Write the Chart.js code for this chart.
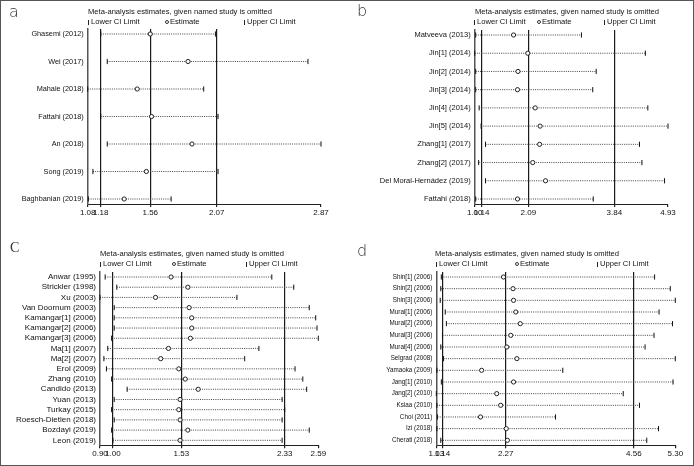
<!DOCTYPE html>
<html>
<head>
<meta charset="utf-8">
<script src="https://cdn.jsdelivr.net/npm/chart.js@4.4.0/dist/chart.umd.min.js"></script>
<style>
body { margin: 0; background: #fff; }
#wrap { position: relative; width: 694px; height: 466px; overflow: hidden; font-family: "Liberation Sans", Arial, sans-serif; color: #111; }
#frame { position: absolute; left: 0; top: 0; width: 692px; height: 464px; border: 1px solid #555; }
.pane { position: absolute; width: 347px; height: 233px; }
.txt { position: absolute; white-space: nowrap; font-size: 7.6px; line-height: 8px; }
.lt { position: absolute; font-family: "DejaVu Sans", sans-serif; font-weight: 200; font-size: 16px; line-height: 16px; color: #333; }
.bar { display: inline-block; width: 1px; height: 5px; background: #222; margin-right: 2px; vertical-align: -0.5px; }
.dot { display: inline-block; width: 2px; height: 2px; border: 1px solid #333; border-radius: 50%; margin-right: 1px; vertical-align: 0.5px; }
</style>
</head>
<body>
<div id="wrap">
  <canvas id="chartA" class="pane" width="347" height="233" style="left:0;top:0"></canvas>
  <canvas id="chartB" class="pane" width="347" height="233" style="left:347px;top:0"></canvas>
  <canvas id="chartC" class="pane" width="347" height="233" style="left:0;top:233px"></canvas>
  <canvas id="chartD" class="pane" width="347" height="233" style="left:347px;top:233px"></canvas>

  <div class="lt" style="left:9px;top:4px">a</div>
  <div class="txt" style="left:88px;top:8px">Meta-analysis estimates, given named study is omitted</div>
  <div class="txt" style="left:88px;top:18px"><span class="bar"></span>Lower CI Limit</div>
  <div class="txt" style="left:165px;top:18px"><span class="dot"></span>Estimate</div>
  <div class="txt" style="left:244px;top:18px"><span class="bar"></span>Upper CI Limit</div>

  <div class="lt" style="left:357px;top:3px">b</div>
  <div class="txt" style="left:475px;top:8px">Meta-analysis estimates, given named study is omitted</div>
  <div class="txt" style="left:474px;top:18px"><span class="bar"></span>Lower CI Limit</div>
  <div class="txt" style="left:537px;top:18px"><span class="dot"></span>Estimate</div>
  <div class="txt" style="left:604px;top:18px"><span class="bar"></span>Upper CI Limit</div>

  <div class="lt" style="left:10px;top:241px;font-family:'Liberation Serif',serif;font-weight:400;font-size:14px;line-height:14px">C</div>
  <div class="txt" style="left:100px;top:250px">Meta-analysis estimates, given named study is omitted</div>
  <div class="txt" style="left:100px;top:260px"><span class="bar"></span>Lower CI Limit</div>
  <div class="txt" style="left:172px;top:260px"><span class="dot"></span>Estimate</div>
  <div class="txt" style="left:246px;top:260px"><span class="bar"></span>Upper CI Limit</div>

  <div class="lt" style="left:357px;top:243px">d</div>
  <div class="txt" style="left:435px;top:250px">Meta-analysis estimates, given named study is omitted</div>
  <div class="txt" style="left:436px;top:260px"><span class="bar"></span>Lower CI Limit</div>
  <div class="txt" style="left:515px;top:260px"><span class="dot"></span>Estimate</div>
  <div class="txt" style="left:597px;top:260px"><span class="bar"></span>Upper CI Limit</div>

  <div id="frame"></div>
</div>
<script>
// panel a
var studiesA = ['Ghasemi (2012)', 'Wei (2017)', 'Mahale (2018)', 'Fattahi (2018)', 'An (2018)', 'Song (2019)', 'Baghbanian (2019)'];
var lowerA = [1.18, 1.23, 1.08, 1.18, 1.23, 1.12, 1.085];
var estimateA = [1.56, 1.85, 1.46, 1.57, 1.88, 1.53, 1.36];
var upperA = [2.06, 2.77, 1.97, 2.08, 2.87, 2.08, 1.72];
var ticksA = [1.08, 1.18, 1.56, 2.07, 2.87];

// panel b
var studiesB = ['Matveeva (2013)', 'Jin[1] (2014)', 'Jin[2] (2014)', 'Jin[3] (2014)', 'Jin[4] (2014)', 'Jin[5] (2014)', 'Zhang[1] (2017)', 'Zhang[2] (2017)', 'Del Moral-Hernádez (2019)', 'Fattahi (2018)'];
var lowerB = [1.02, 1.00, 1.02, 1.02, 1.09, 1.13, 1.22, 1.08, 1.22, 1.02];
var estimateB = [1.79, 2.08, 1.88, 1.87, 2.23, 2.33, 2.32, 2.18, 2.44, 1.87];
var upperB = [3.17, 4.47, 3.47, 3.40, 4.52, 4.93, 4.35, 4.40, 4.86, 3.41];
var ticksB = [1.00, 1.14, 2.09, 3.84, 4.93];

// panel c
var studiesC = ['Anwar (1995)', 'Strickler (1998)', 'Xu (2003)', 'Van Doornum (2003)', 'Kamangar[1] (2006)', 'Kamangar[2] (2006)', 'Kamangar[3] (2006)', 'Ma[1] (2007)', 'Ma[2] (2007)', 'Erol (2009)', 'Zhang (2010)', 'Candido (2013)', 'Yuan (2013)', 'Turkay (2015)', 'Roesch-Dietlen (2018)', 'Bozdayi (2019)', 'Leon (2019)'];
var lowerC = [0.94, 1.03, 0.90, 1.01, 1.01, 1.01, 0.99, 0.96, 0.93, 0.95, 0.99, 1.11, 1.01, 0.99, 1.01, 0.99, 1.00];
var estimateC = [1.45, 1.58, 1.33, 1.59, 1.61, 1.61, 1.60, 1.43, 1.37, 1.51, 1.56, 1.66, 1.52, 1.51, 1.52, 1.58, 1.52];
var upperC = [2.23, 2.40, 1.96, 2.52, 2.57, 2.58, 2.59, 2.13, 2.02, 2.41, 2.47, 2.50, 2.31, 2.33, 2.31, 2.52, 2.31];
var ticksC = [0.90, 1.00, 1.53, 2.33, 2.59];

// panel d
var studiesD = ['Shin[1] (2006)', 'Shin[2] (2006)', 'Shin[3] (2006)', 'Murai[1] (2006)', 'Murai[2] (2006)', 'Murai[3] (2006)', 'Murai[4] (2006)', 'Selgrad (2008)', 'Yamaoka (2009)', 'Jang[1] (2010)', 'Jang[2] (2010)', 'Ksiaa (2010)', 'Choi (2011)', 'Izi (2018)', 'Cherati (2018)'];
var lowerD = [1.12, 1.11, 1.10, 1.19, 1.21, 1.14, 1.11, 1.16, 1.04, 1.12, 1.03, 1.04, 1.05, 1.04, 1.11];
var estimateD = [2.23, 2.40, 2.41, 2.45, 2.53, 2.36, 2.29, 2.47, 1.84, 2.41, 2.11, 2.18, 1.82, 2.28, 2.30];
var upperD = [4.93, 5.21, 5.30, 5.01, 5.25, 4.92, 4.76, 5.30, 3.29, 5.26, 4.37, 4.66, 3.16, 5.00, 4.79];
var ticksD = [1.03, 1.14, 2.27, 4.56, 5.30];

Chart.defaults.font.family = '"Liberation Sans", Arial, sans-serif';
Chart.defaults.color = '#111';

function makePanel(id, studies, lower, est, upper, ticks, box) {
    var n = studies.length;
    var h = box.bottom - box.top;
    var pad = 5 * (n - 1) / (h - 10);

    // estimates first so they are drawn on top of the dotted lines
    var datasets = [{
        data: studies.map(function (s, i) { return { x: est[i], y: i }; }),
        showLine: false,
        pointStyle: 'circle',
        pointRadius: 2.1,
        pointBackgroundColor: '#fff',
        pointBorderColor: '#222',
        pointBorderWidth: 1,
        clip: false
    }];
    for (var i = 0; i < n; i++) {
        datasets.push({
            data: [{ x: lower[i], y: i }, { x: upper[i], y: i }],
            showLine: true,
            borderColor: '#444',
            borderWidth: 1,
            borderDash: [1, 1.2],
            pointStyle: 'line',
            rotation: 90,
            pointRadius: 2.6,
            pointBorderColor: '#111',
            pointBorderWidth: 1,
            clip: false
        });
    }

    new Chart(document.getElementById(id), {
        type: 'scatter',
        data: { datasets: datasets },
        options: {
            responsive: false,
            animation: false,
            events: [],
            layout: { padding: { top: box.top, right: 347 - box.right, left: 0, bottom: 0 } },
            plugins: { legend: { display: false }, tooltip: { enabled: false } },
            scales: {
                x: {
                    type: 'linear',
                    min: ticks[0],
                    max: ticks[ticks.length - 1],
                    afterBuildTicks: function (ax) { ax.ticks = ticks.map(function (v) { return { value: v }; }); },
                    afterFit: function (ax) { ax.height = 233 - box.bottom; },
                    ticks: {
                        autoSkip: false, maxRotation: 0, minRotation: 0, padding: 1,
                        font: { size: 8 }, color: '#111',
                        callback: function (v) { return v.toFixed(2); }
                    },
                    grid: {
                        color: function (c) { return (c.index > 0 && c.index < ticks.length - 1) ? '#1a1a1a' : 'rgba(0,0,0,0)'; },
                        lineWidth: 1.2,
                        tickColor: '#222',
                        tickLength: 3
                    },
                    border: { display: true, color: '#222', width: 1 }
                },
                y: {
                    type: 'linear',
                    reverse: true,
                    min: -pad,
                    max: n - 1 + pad,
                    afterBuildTicks: function (ax) { ax.ticks = studies.map(function (s, i) { return { value: i }; }); },
                    afterFit: function (ax) { ax.width = box.left; },
                    ticks: {
                        autoSkip: false, padding: 4,
                        font: { size: box.font }, color: '#111',
                        callback: function (v) { return studies[v]; }
                    },
                    grid: { display: false, drawTicks: false },
                    border: { display: true, color: '#555', width: 1.5 }
                }
            }
        }
    });
}

makePanel('chartA', studiesA, lowerA, estimateA, upperA, ticksA, { left: 87.7, right: 321, top: 29, bottom: 204, font: 7.3 });
makePanel('chartB', studiesB, lowerB, estimateB, upperB, ticksB, { left: 127.7, right: 321, top: 30, bottom: 204, font: 7.5 });
makePanel('chartC', studiesC, lowerC, estimateC, upperC, ticksC, { left: 100, right: 318.3, top: 39, bottom: 212.3, font: 8 });
makePanel('chartD', studiesD, lowerD, estimateD, upperD, ticksD, { left: 89.3, right: 328.3, top: 39, bottom: 212.3, font: 6.3 });
</script>
</body>
</html>
